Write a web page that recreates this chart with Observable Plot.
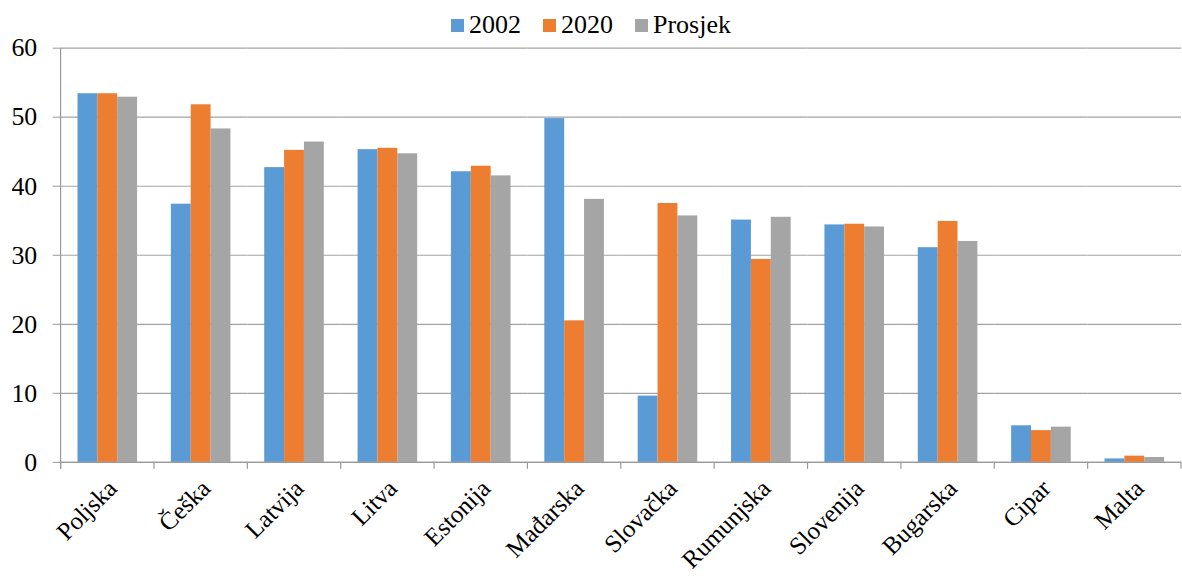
<!DOCTYPE html>
<html><head><meta charset="utf-8">
<script src="https://cdn.jsdelivr.net/npm/d3@7"></script>
<script src="https://cdn.jsdelivr.net/npm/@observablehq/plot@0.6"></script>
<style>
body{margin:0;overflow:hidden;background:#fff;font-family:"Liberation Serif",serif;}
#legend{position:absolute;top:0;left:0;width:1182px;height:50px;display:flex;justify-content:center;align-items:center;gap:22px;font-size:26px;line-height:26px;color:#000;z-index:2;}
#legend .item{display:flex;align-items:center;gap:5px;}
#legend .sw{width:13px;height:13px;display:inline-block;}
</style></head><body>
<div id="legend"></div><div id="chart"></div>
<script>
const countries = ["Poljska","Češka","Latvija","Litva","Estonija","Mađarska","Slovačka","Rumunjska","Slovenija","Bugarska","Cipar","Malta"];
const series = ["2002","2020","Prosjek"];
const v2002    = [53.4, 37.4, 42.7, 45.3, 42.1, 49.8, 9.6, 35.1, 34.4, 31.1, 5.3, 0.5];
const v2020    = [53.4, 51.8, 45.2, 45.5, 42.9, 20.5, 37.5, 29.4, 34.5, 34.9, 4.6, 0.9];
const vProsjek = [52.9, 48.3, 46.4, 44.7, 41.5, 38.1, 35.7, 35.5, 34.1, 32.0, 5.1, 0.7];
const colors = ["#5b9bd5","#ed7d31","#a5a5a5"];
const yTicks = [0,10,20,30,40,50,60];

const valuesBySeries = {"2002": v2002, "2020": v2020, "Prosjek": vProsjek};
const data = countries.flatMap((c, i) => series.map(s => ({country: c, series: s, value: valuesBySeries[s][i]})));

// legend
const lg = document.getElementById("legend");
series.forEach((s, i) => {
  const it = document.createElement("div"); it.className = "item";
  const sw = document.createElement("span"); sw.className = "sw"; sw.style.background = colors[i];
  const tx = document.createElement("span"); tx.textContent = s;
  it.appendChild(sw); it.appendChild(tx); lg.appendChild(it);
});

const plot = Plot.plot({
  width: 1190, height: 580,
  marginTop: 48, marginBottom: 115, marginLeft: 60, marginRight: 0,
  style: {fontFamily: "Liberation Serif", fontSize: "26px", color: "#000", background: "white"},
  fx: {domain: countries, padding: 0, label: null},
  x: {domain: series, paddingInner: 0, paddingOuter: 0.76, axis: null},
  y: {domain: [0, 60], label: null},
  color: {domain: series, range: colors},
  marks: [
    Plot.gridY(yTicks, {stroke: "#a3a3a3", strokeOpacity: 1, strokeWidth: 1.2}),
    Plot.barY(data, {fx: "country", x: "series", y: "value", fill: "series", inset: 0}),
    Plot.ruleY([0], {stroke: "#999", strokeWidth: 1.2}),
    Plot.axisY(yTicks, {tickSize: 8, tickPadding: 16, stroke: "#999", fill: "#000", label: null}),
    Plot.axisFx({anchor: "bottom", tickRotate: -45, tickSize: 0, tickPadding: 22, dx: 5, fontSize: 25, label: null, fill: "#000"})
  ]
});
document.getElementById("chart").appendChild(plot);

// category boundary ticks and y-axis line, from the plot's own scales
const fx = plot.scale("fx"), y = plot.scale("y");
const y0 = y.apply(0), yTop = y.apply(60);
const g = d3.select(plot).append("g").attr("stroke", "#999").attr("stroke-width", 1.2);
const bounds = countries.map(c => fx.apply(c)).concat([fx.apply(countries[countries.length-1]) + fx.bandwidth]);
bounds.forEach(b => g.append("line").attr("x1", b).attr("x2", b).attr("y1", y0).attr("y2", y0 + 7));
g.append("line").attr("x1", bounds[0]).attr("x2", bounds[0]).attr("y1", yTop).attr("y2", y0 + 7);
</script>
</body></html>
